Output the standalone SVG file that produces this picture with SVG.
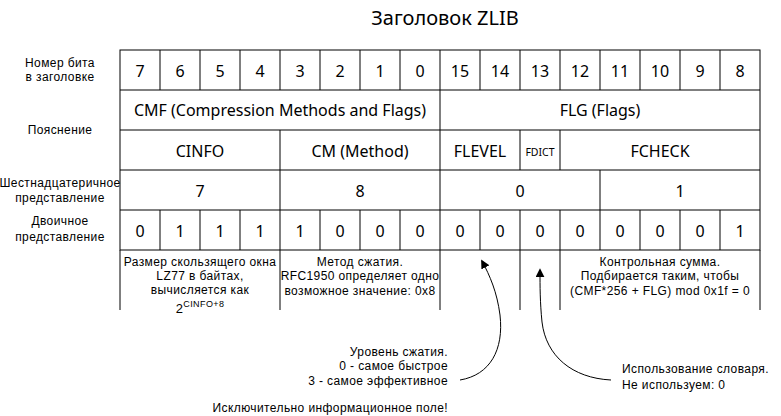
<svg xmlns="http://www.w3.org/2000/svg" width="781" height="416" viewBox="0 0 781 416">
<style>
text{font-family:"Noto Sans","Open Sans",sans-serif;fill:#000}
.t{font-size:20px}
.n{font-size:16px;text-anchor:middle;dominant-baseline:central}
.s,.r,.l{font-family:"Liberation Sans",Arial,sans-serif;font-size:12px;letter-spacing:0.4px}
.s{text-anchor:middle}
.r{text-anchor:end}
.l{text-anchor:start}
.g{stroke:#000;stroke-width:1;fill:none}
</style>
<defs>
<marker id="ah" viewBox="0 0 10 10" refX="8" refY="5" markerWidth="9" markerHeight="9" markerUnits="userSpaceOnUse" orient="auto">
<path d="M0,0 L10,5 L0,10 Z" fill="#000"/>
</marker>
</defs>
<rect width="781" height="416" fill="#fff"/>
<text class="t" x="445" y="25" text-anchor="middle">Заголовок ZLIB</text>
<g id="labels">
<text class="s" x="60" y="67">Номер бита</text>
<text class="s" x="60" y="81">в заголовке</text>
<text class="s" x="60" y="134">Пояснение</text>
<text class="s" x="60" y="187">Шестнадцатеричное</text>
<text class="s" x="60" y="202">представление</text>
<text class="s" x="60" y="225">Двоичное</text>
<text class="s" x="60" y="241">представление</text>
</g>
<g id="table" class="g">
<rect x="120" y="50" width="640" height="200"/>
<path d="M120,90H760M120,130H760M120,170H760M120,210H760"/>
<path d="M160,50V90M200,50V90M240,50V90M280,50V90M320,50V90M360,50V90M400,50V90M440,50V90M480,50V90M520,50V90M560,50V90M600,50V90M640,50V90M680,50V90M720,50V90"/>
<path d="M440,90V130"/>
<path d="M280,130V170M440,130V170M520,130V170M560,130V170"/>
<path d="M280,170V210M440,170V210M600,170V210"/>
<path d="M160,210V250M200,210V250M240,210V250M280,210V250M320,210V250M360,210V250M400,210V250M440,210V250M480,210V250M520,210V250M560,210V250M600,210V250M640,210V250M680,210V250M720,210V250"/>
<path d="M120,250V310M280,250V310M440,250V310M520,250V310M560,250V310M760,250V310"/>
</g>
<g id="bits">
<text class="n" x="140" y="71">7</text><text class="n" x="180" y="71">6</text><text class="n" x="220" y="71">5</text><text class="n" x="260" y="71">4</text>
<text class="n" x="300" y="71">3</text><text class="n" x="340" y="71">2</text><text class="n" x="380" y="71">1</text><text class="n" x="420" y="71">0</text>
<text class="n" x="460" y="71">15</text><text class="n" x="500" y="71">14</text><text class="n" x="540" y="71">13</text><text class="n" x="580" y="71">12</text>
<text class="n" x="620" y="71">11</text><text class="n" x="660" y="71">10</text><text class="n" x="700" y="71">9</text><text class="n" x="740" y="71">8</text>
</g>
<g id="cmf"><text class="n" x="280" y="110">CMF (Compression Methods and Flags)</text></g>
<g id="flg"><text class="n" x="600" y="110">FLG (Flags)</text></g>
<g id="cinfo"><text class="n" x="200" y="151">CINFO</text></g>
<g id="cm"><text class="n" x="360" y="151">CM (Method)</text></g>
<g id="flevel"><text class="n" x="480" y="151">FLEVEL</text></g>
<g id="fdict"><text class="n" x="540" y="152" style="font-size:10.5px">FDICT</text></g>
<g id="fcheck"><text class="n" x="660" y="151">FCHECK</text></g>
<g id="hex">
<text class="n" x="200" y="191">7</text><text class="n" x="360" y="191">8</text><text class="n" x="520" y="191">0</text><text class="n" x="680" y="191">1</text>
</g>
<g id="bin">
<text class="n" x="140" y="231">0</text><text class="n" x="180" y="231">1</text><text class="n" x="220" y="231">1</text><text class="n" x="260" y="231">1</text>
<text class="n" x="300" y="231">1</text><text class="n" x="340" y="231">0</text><text class="n" x="380" y="231">0</text><text class="n" x="420" y="231">0</text>
<text class="n" x="460" y="231">0</text><text class="n" x="500" y="231">0</text><text class="n" x="540" y="231">0</text><text class="n" x="580" y="231">0</text>
<text class="n" x="620" y="231">0</text><text class="n" x="660" y="231">0</text><text class="n" x="700" y="231">0</text><text class="n" x="740" y="231">1</text>
</g>
<g id="desc-cinfo">
<text class="s" x="200" y="266">Размер скользящего окна</text>
<text class="s" x="200" y="280">LZ77 в байтах,</text>
<text class="s" x="200" y="294">вычисляется как</text>
<text class="s" x="200" y="313"><tspan style="font-size:13px">2</tspan><tspan dy="-6" style="font-size:9px">CINFO+8</tspan></text>
</g>
<g id="desc-cm">
<text class="s" x="360" y="266">Метод сжатия.</text>
<text class="s" x="360" y="280">RFC1950 определяет одно</text>
<text class="s" x="360" y="295">возможное значение: 0x8</text>
</g>
<g id="desc-fcheck">
<text class="s" x="660" y="266">Контрольная сумма.</text>
<text class="s" x="660" y="280">Подбирается таким, чтобы</text>
<text class="s" x="660" y="295">(CMF*256 + FLG) mod 0x1f = 0</text>
</g>
<g id="note-flevel">
<text class="r" x="448" y="356">Уровень сжатия.</text>
<text class="r" x="448" y="370">0 - самое быстрое</text>
<text class="r" x="448" y="385">3 - самое эффективное</text>
</g>
<g id="note-fdict">
<text class="l" x="622" y="373">Использование словаря.</text>
<text class="l" x="622" y="389">Не используем: 0</text>
</g>
<g id="note-info"><text class="r" x="448" y="412">Исключительно информационное поле!</text></g>
<g id="connectors" class="g">
<path d="M460,380 C490,375 504,350 500,315 C497,292 490,276 482,261" marker-end="url(#ah)"/>
<path d="M611,380 C572,378 546,356 542,322 C540,302 540,287 540,270" marker-end="url(#ah)"/>
</g>
</svg>
